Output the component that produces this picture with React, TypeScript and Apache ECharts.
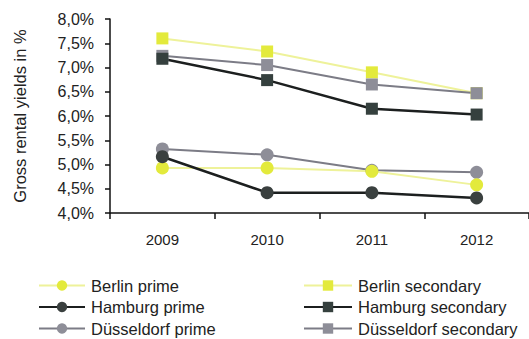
import React, { useEffect, useRef } from "react";
import * as echarts from "echarts";

const years = ["2009", "2010", "2011", "2012"];
const berlinPrime = [4.93, 4.93, 4.86, 4.58];
const hamburgPrime = [5.16, 4.42, 4.42, 4.31];
const duesseldorfPrime = [5.32, 5.2, 4.88, 4.84];
const berlinSecondary = [7.6, 7.33, 6.9, 6.47];
const hamburgSecondary = [7.18, 6.74, 6.15, 6.03];
const duesseldorfSecondary = [7.24, 7.05, 6.65, 6.47];

const leftLegend = ["Berlin prime", "Hamburg prime", "Düsseldorf prime"];
const rightLegend = ["Berlin secondary", "Hamburg secondary", "Düsseldorf secondary"];

const yMin = 4;
const yMax = 8;
const yStep = 0.5;

const FONT = "'Liberation Sans', Arial, sans-serif";
const TEXT = "#222";

export default function App() {
  const ref = useRef<HTMLDivElement>(null);
  useEffect(() => {
    if (!ref.current) return;
    const chart = echarts.init(ref.current, null, { renderer: "svg" });
    const mk = (
      name: string,
      data: number[],
      line: string,
      marker: string,
      symbol: string,
      size: number,
      width: number
    ) => ({
      name,
      type: "line",
      data,
      symbol,
      symbolSize: size,
      lineStyle: { color: line, width },
      itemStyle: { color: marker },
      z: 2,
    });
    const legendRow = (name: string, left: number, row: number, w: number) => ({
      orient: "horizontal",
      left,
      top: 277 + row * 21.5,
      itemWidth: w,
      itemHeight: 13,
      itemGap: 0,
      padding: 0,
      textStyle: {
        fontSize: 16.5,
        lineHeight: 17,
        color: TEXT,
        fontFamily: FONT,
        padding: [0, 0, 0, 1],
      },
      data: [name],
    });
    chart.setOption({
      animation: false,
      backgroundColor: "#fff",
      textStyle: { fontFamily: FONT },
      grid: { left: 110, top: 19, height: 194, width: 424 },
      xAxis: {
        type: "category",
        data: years,
        boundaryGap: true,
        axisLine: { lineStyle: { color: "#111", width: 1.5 } },
        axisTick: { show: true, length: 6, lineStyle: { color: "#111", width: 1.5 } },
        axisLabel: { fontSize: 15, color: TEXT, margin: 19, fontFamily: FONT },
      },
      yAxis: {
        type: "value",
        min: yMin,
        max: yMax,
        interval: yStep,
        name: "Gross rental yields in %",
        nameLocation: "middle",
        nameRotate: 90,
        nameGap: 82,
        nameTextStyle: { fontSize: 16.5, color: TEXT, fontFamily: FONT },
        axisLine: { show: true, lineStyle: { color: "#111", width: 1.5 } },
        axisTick: { show: true, length: 5, lineStyle: { color: "#111", width: 1.5 } },
        splitLine: { show: false },
        axisLabel: {
          fontSize: 16,
          color: TEXT,
          margin: 16,
          fontFamily: FONT,
          formatter: (v: number) => v.toFixed(1).replace(".", ",") + "%",
        },
      },
      legend: [
        ...leftLegend.map((n, i) => legendRow(n, 38, i, 46)),
        ...rightLegend.map((n, i) => legendRow(n, 303, i, 48)),
      ],
      series: [
        mk("Berlin secondary", berlinSecondary, "#eef29a", "#e3ea3c", "rect", 12, 2),
        mk("Düsseldorf secondary", duesseldorfSecondary, "#7c7c86", "#8e8e98", "rect", 12, 2),
        mk("Hamburg secondary", hamburgSecondary, "#1c1f1f", "#35403e", "rect", 12, 2.5),
        mk("Düsseldorf prime", duesseldorfPrime, "#7c7c86", "#8e8e98", "circle", 13, 2),
        mk("Berlin prime", berlinPrime, "#eef29a", "#e3ea3c", "circle", 13, 2),
        mk("Hamburg prime", hamburgPrime, "#1c1f1f", "#3a403f", "circle", 13, 2.5),
      ],
    });
    return () => chart.dispose();
  }, []);
  return <div ref={ref} style={{ width: 529, height: 339, position: "fixed", left: 0, top: 0 }} />;
}
